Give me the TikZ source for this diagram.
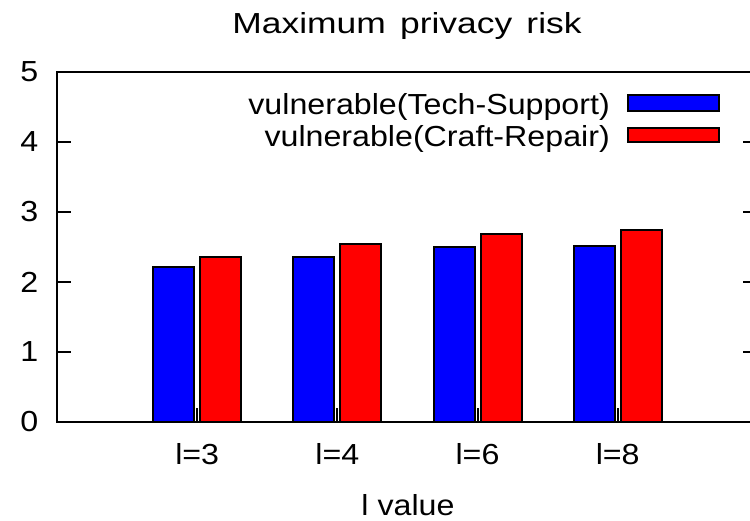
\documentclass[tikz,border=0pt]{standalone}
\usepackage{graphicx}
\usepackage{fontspec}
\setmainfont[FakeStretch=1.11]{Liberation Sans}

\tikzset{
    rahmen/.style={line width=2pt},
    blau/.style={fill=blue, draw=black, line width=2pt},
    rot/.style={fill=red, draw=black, line width=2pt},
    schrift/.style={inner sep=0pt, font=\fontsize{29}{34}\selectfont}
}

\begin{document}
\begin{tikzpicture}[x=1pt, y=70pt]
    \useasboundingbox (-57,-1.4) rectangle (693,6.0286);
    \path node[schrift, anchor=base] (titel) at (350,5.557) {\scalebox{1.1}[1]{Maximum\hspace{4pt} privacy\hspace{4pt} risk}}
        node[schrift, anchor=east] (y0) at (-18.5,0) {0}
        node[schrift, anchor=east] (y1) at (-18.5,1) {1}
        node[schrift, anchor=east] (y2) at (-18.5,2) {2}
        node[schrift, anchor=east] (y3) at (-18.5,3) {3}
        node[schrift, anchor=east] (y4) at (-18.5,4) {4}
        node[schrift, anchor=east] (y5) at (-18.5,5) {5}
        node[schrift, anchor=base] (l3) at (140.2,-0.614) {l=3}
        node[schrift, anchor=base] (l4) at (280.3,-0.614) {l=4}
        node[schrift, anchor=base] (l6) at (420.5,-0.614) {l=6}
        node[schrift, anchor=base] (l8) at (560.7,-0.614) {l=8}
        node[schrift, anchor=base] (achse) at (351,-1.329) {l value}
        node[schrift, anchor=base east] (blautext) at (553,4.386) {vulnerable(Tech-Support)}
        node[schrift, anchor=base east] (rottext) at (553,3.933) {vulnerable(Craft-Repair)};
    \draw[rahmen] (0,0) rectangle (700,5);
    \draw[rahmen] (0,1) -- ++(14,0) (0,2) -- ++(14,0) (0,3) -- ++(14,0) (0,4) -- ++(14,0);
    \draw[rahmen] (700,1) -- ++(-14,0) (700,2) -- ++(-14,0) (700,3) -- ++(-14,0) (700,4) -- ++(-14,0);
    \draw[rahmen] (140.2,0) -- ++(0,0.2) (280.3,0) -- ++(0,0.2) (420.5,0) -- ++(0,0.2) (560.7,0) -- ++(0,0.2);
    \draw[blau] (96.2,0) rectangle (137.2,2.22);
    \draw[rot] (143.2,0) rectangle (184.2,2.36);
    \draw[blau] (236.3,0) rectangle (277.3,2.36);
    \draw[rot] (283.3,0) rectangle (324.3,2.54);
    \draw[blau] (376.5,0) rectangle (417.5,2.50);
    \draw[rot] (423.5,0) rectangle (464.5,2.68);
    \draw[blau] (516.7,0) rectangle (557.7,2.52);
    \draw[rot] (563.7,0) rectangle (604.7,2.74);
    \draw[blau] (571,4.447) rectangle (662,4.667);
    \draw[rot] (571,3.995) rectangle (662,4.205);
\end{tikzpicture}
\end{document}
